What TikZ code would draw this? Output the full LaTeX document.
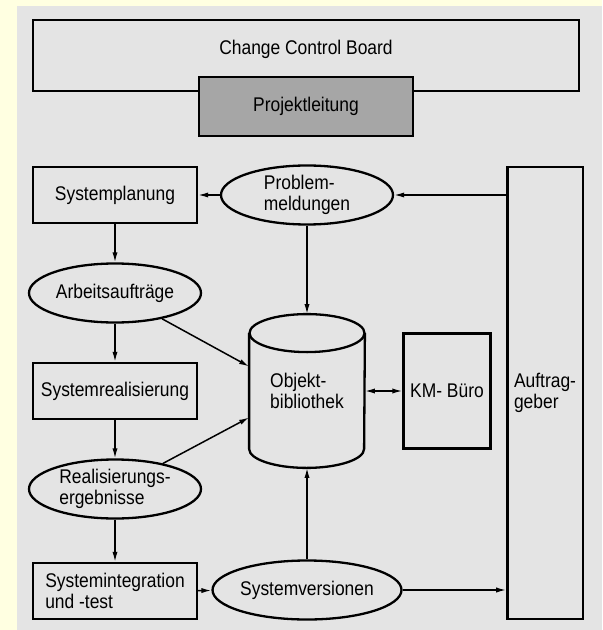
\documentclass[tikz,border=0pt]{standalone}
\usepackage{fontspec}
\setmainfont{Liberation Sans}[FakeStretch=0.88]
\usetikzlibrary{arrows.meta,shapes.geometric,positioning}
\definecolor{paper}{HTML}{E4E4E4}
\definecolor{frame}{HTML}{FFFFE1}
\definecolor{leadgray}{HTML}{A6A6A6}
\tikzset{%
  >={Latex[width=2.6pt,length=5pt]},
  % Specifications for style of nodes:
         txt/.style = {font=\fontsize{9.9pt}{10.6pt}\selectfont, align=left},
        base/.style = {txt, draw=black, line width=1.15pt},
     workBox/.style = {base, rectangle, minimum width=82pt, minimum height=28pt},
 dataEllipse/.style = {base, ellipse, inner sep=0pt,
                       minimum width=86pt, minimum height=29.5pt},
        flow/.style = {->, line width=0.75pt},
}

\begin{document}
\begin{tikzpicture}[x=0.5pt, y=-0.5pt, node distance=49pt]
  \useasboundingbox (0,0) rectangle (602,630);
  \fill[frame] (0,0) rectangle (602,630);
  \fill[paper] (17,6) rectangle (602,630);

  % Board and project lead on top
  \node (ccb)      [base, minimum width=273pt, minimum height=35.5pt] at (306,55.5) {};
  \node (ccbtitle) [txt] at ([yshift=3pt]ccb.center) {Change Control Board};
  \node (lead)     [base, fill=leadgray, minimum width=107pt, minimum height=29.5pt]
                   at (306,106.5) {Projektleitung};

  % Specification of nodes (position, etc.)
  \node (plan)   [workBox] at (115,195)                {Systemplanung};
  \node (tasks)  [dataEllipse, below of=plan]          {Arbeitsaufträge};
  \node (real)   [workBox, below of=tasks]             {Systemrealisierung};
  \node (res)    [dataEllipse, below of=real]          {Realisierungs-\\ergebnisse};
  \node (integ)  [workBox, below of=res, yshift=-2pt]  {Systemintegration\\und -test};

  \node (probl)  [dataEllipse, right of=plan, xshift=47pt]    {Problem-\\meldungen};
  \node (obj)    [txt, minimum width=57.5pt, minimum height=76.5pt,
                  below of=probl, yshift=-49pt]                 {Objekt-\\bibliothek};
  \node (vers)   [dataEllipse, below of=obj, yshift=-50.5pt]  {Systemversionen};

  \node (kmb)    [base, minimum width=40pt, minimum height=57.5pt,
                  right of=obj, xshift=21pt]                    {KM- Büro};
  \node (auftr)  [base, minimum width=34.5pt, minimum height=226pt,
                  right of=kmb, yshift=-1pt]                    {Auftrag-\\geber};

  % cylinder round the library
  \draw[line width=1.15pt] ([yshift=-9.5pt]obj.north) ellipse [x radius=28.75pt, y radius=9.5pt];
  \draw[line width=1.15pt] ([yshift=-9.5pt]obj.north west) -- ([yshift=9.5pt]obj.south west)
       arc [start angle=180, end angle=360, x radius=28.75pt, y radius=9.5pt]
       -- ([yshift=-9.5pt]obj.north east);

  % Specification of lines between nodes specified above
  \draw[flow]  (auftr.west |- probl.east) -- (probl.east);
  \draw[flow]  (probl) -- (plan);
  \draw[flow]  (probl) -- (obj);
  \draw[flow]  (plan) -- (tasks);
  \draw[flow]  (tasks) -- (real);
  \draw[flow]  (tasks) -- ([yshift=12.25pt]obj.west);
  \draw[flow]  (real) -- (res);
  \draw[flow]  (res) -- ([yshift=-13.25pt]obj.west);
  \draw[flow]  (res) -- (integ);
  \draw[flow]  (integ) -- (vers);
  \draw[flow]  (vers) -- (obj);
  \draw[flow]  (vers.east) -- (vers.east -| auftr.west);
  \draw[<->, line width=0.75pt] (obj.east) -- (kmb.west);
\end{tikzpicture}
\end{document}
